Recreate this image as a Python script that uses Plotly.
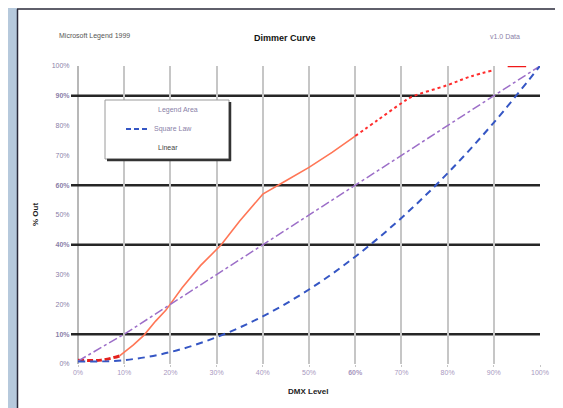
import plotly.graph_objects as go

# ---- data ----
dmx_levels = [0, 10, 20, 30, 40, 50, 60, 70, 80, 90, 100]
square_law = [0.8, 1.3, 4, 9, 16, 25, 36, 49, 64, 81, 100]
linear = [1, 10, 20, 30, 40, 50, 60, 70, 80, 90, 100]

red_x = [0, 5, 9, 10.5, 12, 14.3, 16.8, 19, 22.5, 26.5, 31, 35, 40, 45, 50, 55, 60, 65, 70, 72, 80, 85, 90, 93, 97]
red_y = [1.3, 1.3, 2.7, 4.4, 6.4, 9.7, 14.4, 18, 25.5, 33, 40, 48, 57, 61.5, 66, 71, 76.5, 82, 87.5, 89.5, 93.6, 96.5, 98.6, 100, 100]

ref_levels = [10, 40, 60, 90]
tick_vals = [0, 10, 20, 30, 40, 50, 60, 70, 80, 90, 100]
tick_text = ["0%", "10%", "20%", "30%", "40%", "50%", "60%", "70%", "80%", "90%", "100%"]

title_text = "Dimmer Curve"
left_header = "Microsoft Legend 1999"
right_header = "v1.0 Data"
x_title = "DMX Level"
y_title = "% Out"
legend_title = "Legend Area"
legend_items = ["Square Law", "Linear"]

W, H = 563, 408
L, R, T, B = 70, 31, 58, 52
PW, PH = W - L - R, H - T - B


def px_x(p):
    return (p - L) / PW


def px_y(p):
    return (H - B - p) / PH


fig = go.Figure()

# red curve in segments
segments = [
    (0, 3, dict(color="#e3201c", width=3, dash="6px,3px", shape="spline")),
    (2, 17, dict(color="#ff7656", width=1.6, shape="linear")),
    (16, 23, dict(color="#ff2d2d", width=2, dash="3px,3px", shape="spline")),
    (23, 25, dict(color="#f01818", width=2.5, shape="linear")),
]
for a, b, ln in segments:
    fig.add_trace(go.Scatter(x=red_x[a:b], y=red_y[a:b], mode="lines", line=ln,
                             showlegend=False, hoverinfo="skip"))

fig.add_trace(go.Scatter(x=dmx_levels, y=linear, mode="lines",
                         line=dict(color="#9c6ec8", width=1.5, dash="dashdot"), showlegend=False))
fig.add_trace(go.Scatter(x=dmx_levels, y=square_law, mode="lines",
                         line=dict(color="#3556c4", width=2, dash="7px,5px", shape="spline"), showlegend=False))

shapes = []
# frame
shapes.append(dict(type="rect", xref="paper", yref="paper", x0=px_x(-2), x1=px_x(9), y0=px_y(420), y1=px_y(-5),
                   fillcolor="#b6c9dc", line=dict(width=0), layer="below"))
shapes.append(dict(type="line", xref="paper", yref="paper", x0=px_x(9.5), x1=px_x(9.5), y0=px_y(1), y1=px_y(402.5),
                   line=dict(color="#2a2a3a", width=1.5)))
shapes.append(dict(type="line", xref="paper", yref="paper", x0=px_x(9), x1=px_x(570), y0=px_y(1), y1=px_y(1),
                   line=dict(color="#2a2a3a", width=1.5)))
shapes.append(dict(type="line", xref="paper", yref="paper", x0=px_x(9), x1=px_x(570), y0=px_y(402.5), y1=px_y(402.5),
                   line=dict(color="#2a2a3a", width=1.5)))
# y axis line
shapes.append(dict(type="line", xref="paper", yref="paper", x0=0, x1=0, y0=0, y1=1,
                   line=dict(color="#b8b8b8", width=2), layer="below"))
# reference lines
for lv in ref_levels:
    shapes.append(dict(type="line", xref="paper", yref="y", x0=px_x(63), x1=1, y0=lv, y1=lv,
                       line=dict(color="#262626", width=2.5), layer="below"))

# legend box
lx0, lx1, ly0, ly1 = 97, 221, 92, 151
shapes.append(dict(type="rect", xref="paper", yref="paper", x0=px_x(lx0), x1=px_x(lx1), y0=px_y(ly1), y1=px_y(ly0),
                   fillcolor="white", line=dict(color="#9a9a9a", width=1)))
shapes.append(dict(type="line", xref="paper", yref="paper", x0=px_x(lx1 + 1), x1=px_x(lx1 + 1), y0=px_y(ly1 + 2), y1=px_y(ly0 + 2),
                   line=dict(color="#333333", width=2.5)))
shapes.append(dict(type="line", xref="paper", yref="paper", x0=px_x(lx0 + 2), x1=px_x(lx1 + 2), y0=px_y(ly1 + 1), y1=px_y(ly1 + 1),
                   line=dict(color="#333333", width=2.5)))
shapes.append(dict(type="line", xref="paper", yref="paper", x0=px_x(118), x1=px_x(141), y0=px_y(121), y1=px_y(121),
                   line=dict(color="#3556c4", width=2, dash="5px,3px")))

annotations = [
    dict(text="<b>" + title_text + "</b>", x=px_x(277), y=px_y(30), font=dict(size=9, color="#111111", family="Liberation Sans"),
         showarrow=False, xref="paper", yref="paper", xanchor="center", yanchor="middle"),
    dict(text=left_header, x=px_x(86), y=px_y(28), font=dict(size=7, color="#555555", family="Liberation Sans"),
         showarrow=False, xref="paper", yref="paper", xanchor="center", yanchor="middle"),
    dict(text=right_header, x=px_x(497), y=px_y(28), font=dict(size=7, color="#8a7fa8", family="Liberation Sans"),
         showarrow=False, xref="paper", yref="paper", xanchor="center", yanchor="middle"),
    dict(text="<b>" + x_title + "</b>", x=px_x(300), y=px_y(383), font=dict(size=8, color="#222222", family="Liberation Sans"),
         showarrow=False, xref="paper", yref="paper", xanchor="center", yanchor="middle"),
    dict(text="<b>" + y_title + "</b>", x=px_x(27), y=px_y(207), textangle=-90,
         font=dict(size=8, color="#222222", family="Liberation Sans"),
         showarrow=False, xref="paper", yref="paper", xanchor="center", yanchor="middle"),
    dict(text=legend_title, x=px_x(170), y=px_y(102), font=dict(size=7, color="#8a7fa8", family="Liberation Sans"),
         showarrow=False, xref="paper", yref="paper", xanchor="center", yanchor="middle"),
    dict(text=legend_items[0], x=px_x(144), y=px_y(121), font=dict(size=7, color="#8a7fa8", family="Liberation Sans"),
         showarrow=False, xref="paper", yref="paper", xanchor="left", yanchor="middle"),
    dict(text=legend_items[1], x=px_x(160), y=px_y(139), font=dict(size=7, color="#444444", family="Liberation Sans"),
         showarrow=False, xref="paper", yref="paper", xanchor="center", yanchor="middle"),
]

y_ticktext = [("<b>" + t + "</b>") if v in ref_levels else t for v, t in zip(tick_vals, tick_text)]
x_ticktext = ["<b>" + t + "</b>" if v == 60 else t for v, t in zip(tick_vals, tick_text)]

fig.update_layout(
    width=W, height=H,
    margin=dict(l=L, r=R, t=T, b=B, pad=0),
    paper_bgcolor="white", plot_bgcolor="white",
    showlegend=False,
    shapes=shapes, annotations=annotations,
    font=dict(family="Liberation Sans", size=7, color="#9a8fb8"),
    xaxis=dict(range=[0, 100], tickvals=tick_vals, ticktext=x_ticktext, showgrid=True, gridcolor="#c6c6c6",
               gridwidth=2, zeroline=False, showline=False, ticks="outside", ticklen=2, tickcolor="#c6c6c6",
               tickfont=dict(size=7, color="#a898c0"), fixedrange=True),
    yaxis=dict(range=[0, 100], tickvals=tick_vals, ticktext=y_ticktext, showgrid=False, zeroline=False,
               showline=False, ticks="outside", ticklen=6, tickcolor="rgba(0,0,0,0)",
               tickfont=dict(size=7, color="#8a80a8"), fixedrange=True),
)

fig.write_html("out.html")
